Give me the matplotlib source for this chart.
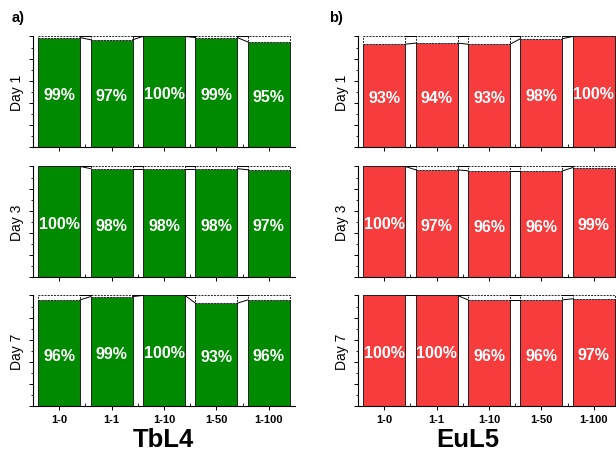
import numpy as np
import matplotlib.pyplot as plt
from matplotlib.ticker import MultipleLocator

plt.rcParams['font.family'] = ['Liberation Sans', 'DejaVu Sans']

# --- data ---
ratios = ["1-0", "1-1", "1-10", "1-50", "1-100"]
days = ["Day 1", "Day 3", "Day 7"]

tbl4_day1 = [99, 97, 100, 99, 95]
tbl4_day3 = [100, 98, 98, 98, 97]
tbl4_day7 = [96, 99, 100, 93, 96]

eul5_day1 = [93, 94, 93, 98, 100]
eul5_day3 = [100, 97, 96, 96, 99]
eul5_day7 = [100, 100, 96, 96, 97]

GREEN = "#008a00"
RED = "#f73c3e"
BAR_W = 0.8

fig = plt.figure(figsize=(6.16, 4.52), dpi=100)

col_left = [0.0536, 0.5812]
col_width = 0.4253
row_bottom = [0.6726, 0.385, 0.0996]
row_height = 0.2445


def draw_panel(ax, vals, color, show_xlabels):
    x = np.arange(len(vals))
    vals = np.array(vals, dtype=float)
    ax.bar(x, vals, width=BAR_W, color=color, edgecolor="#222222", linewidth=0.7, zorder=2)
    ax.bar(x, 100 - vals, bottom=vals, width=BAR_W, color="white",
           edgecolor="#222222", linewidth=0.7, linestyle=(0, (2, 1.2)), zorder=2)
    # connectors between neighbouring bars (Origin style)
    for i in range(len(vals) - 1):
        xs = [i + BAR_W / 2, i + 1 - BAR_W / 2]
        ax.plot(xs, [vals[i], vals[i + 1]], color="black", lw=0.7, zorder=3)
        ax.plot(xs, [100, 100], color="black", lw=0.7, zorder=3, clip_on=False)
    for i, v in enumerate(vals):
        ax.text(i, v / 2 - 2, f"{v:.0f}%", ha="center", va="center",
                color="white", fontsize=11.5, fontweight="bold", zorder=4)

    ax.set_xlim(-0.5, len(vals) - 0.5)
    ax.set_ylim(0, 100)
    ax.spines["top"].set_visible(False)
    ax.spines["right"].set_visible(False)
    ax.spines["left"].set_linewidth(0.8)
    ax.spines["bottom"].set_linewidth(0.8)
    ax.yaxis.set_major_locator(MultipleLocator(20))
    ax.yaxis.set_minor_locator(MultipleLocator(10))
    ax.tick_params(axis="y", which="major", length=3, width=0.7, labelleft=False)
    ax.tick_params(axis="y", which="minor", length=1.8, width=0.6)
    ax.set_xticks(x)
    ax.set_xticks(x[:-1] + 0.5, minor=True)
    ax.tick_params(axis="x", which="major", length=3, width=0.7, pad=3)
    ax.tick_params(axis="x", which="minor", direction="in", length=2, width=0.6)
    if show_xlabels:
        ax.set_xticklabels(ratios, fontsize=8, fontweight="bold")
    else:
        ax.set_xticklabels([])


panels = [
    (col_left[0], GREEN, [tbl4_day1, tbl4_day3, tbl4_day7]),
    (col_left[1], RED, [eul5_day1, eul5_day3, eul5_day7]),
]

for left, color, series in panels:
    for r, vals in enumerate(series):
        ax = fig.add_axes([left, row_bottom[r], col_width, row_height])
        draw_panel(ax, vals, color, r == len(series) - 1)
        ax.set_ylabel(days[r], fontsize=10, labelpad=1)

fig.text(0.019, 0.96, "a)", fontsize=10.5, fontweight="bold", va="center")
fig.text(0.535, 0.96, "b)", fontsize=10.5, fontweight="bold", va="center")
fig.text(0.265, 0.027, "TbL4", fontsize=18.5, fontweight="bold", ha="center", va="center")
fig.text(0.760, 0.027, "EuL5", fontsize=18.5, fontweight="bold", ha="center", va="center")

fig.savefig("out.png", dpi=100)
